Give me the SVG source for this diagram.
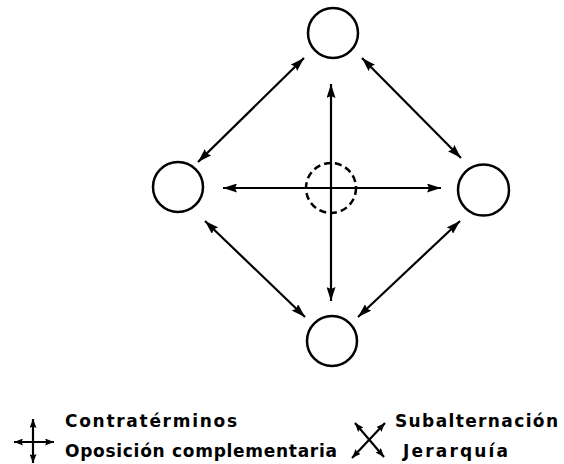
<svg xmlns="http://www.w3.org/2000/svg" width="564" height="464" viewBox="0 0 564 464">
<style>
.node{fill:none;stroke:#000;stroke-width:2.5}
.dash{fill:none;stroke:#000;stroke-width:2.5;stroke-dasharray:7 4}
.conn{stroke:#000;stroke-width:2.2;fill:none;marker-start:url(#ah);marker-end:url(#ah)}
.leg{stroke:#000;stroke-width:2.2;fill:none;marker-start:url(#ahs);marker-end:url(#ahs)}
.t{font-family:"DejaVu Sans","Liberation Sans",sans-serif;font-weight:bold;font-size:17px;fill:#000}
</style>
<defs>
<marker id="ah" viewBox="0 0 14 9" refX="14" refY="4.5" markerWidth="14" markerHeight="9" markerUnits="userSpaceOnUse" orient="auto-start-reverse">
<path d="M0,0 L14,4.5 L0,9 L2,4.5 Z" fill="#000"/>
</marker>
<marker id="ahs" viewBox="0 0 9 7" refX="9" refY="3.5" markerWidth="9" markerHeight="7" markerUnits="userSpaceOnUse" orient="auto-start-reverse">
<path d="M0,0 L9,3.5 L0,7 L1.5,3.5 Z" fill="#000"/>
</marker>
</defs>
<g id="top"><circle class="node" cx="333" cy="33" r="25"/></g>
<g id="left"><circle class="node" cx="178" cy="187" r="25"/></g>
<g id="center"><circle class="dash" cx="331" cy="188" r="25"/></g>
<g id="right"><circle class="node" cx="483.5" cy="190" r="25.5"/></g>
<g id="bottom"><circle class="node" cx="332" cy="341" r="25"/></g>
<g id="connectors">
<line class="conn" x1="198" y1="162" x2="304" y2="58"/>
<line class="conn" x1="362" y1="58" x2="461" y2="158"/>
<line class="conn" x1="205" y1="221" x2="305" y2="317"/>
<line class="conn" x1="460" y1="221" x2="358" y2="317"/>
<line class="conn" x1="331" y1="84" x2="331" y2="301"/>
<line class="conn" x1="223" y1="188" x2="441" y2="188"/>
</g>
<g id="legend">
<line class="leg" x1="33" y1="419" x2="33" y2="463"/>
<line class="leg" x1="14" y1="442" x2="54" y2="442"/>
<line class="leg" x1="352" y1="458" x2="385" y2="423"/>
<line class="leg" x1="355" y1="423" x2="384" y2="457"/>
<text class="t" x="65" y="427" textLength="172" lengthAdjust="spacing">Contratérminos</text>
<text class="t" x="65" y="457" textLength="272" lengthAdjust="spacing">Oposición complementaria</text>
<text class="t" x="395" y="427" textLength="163" lengthAdjust="spacing">Subalternación</text>
<text class="t" x="403" y="457" textLength="105" lengthAdjust="spacing">Jerarquía</text>
</g>
</svg>
